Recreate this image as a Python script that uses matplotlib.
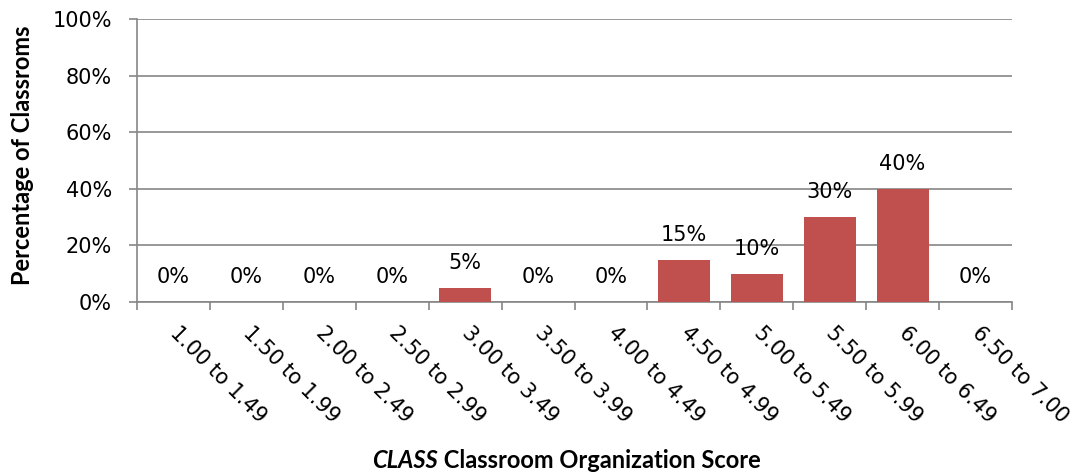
import numpy as np
import matplotlib.pyplot as plt
from matplotlib.ticker import FixedLocator

plt.rcParams['font.family'] = ['DejaVu Sans']

# data
categories = ["1.00 to 1.49", "1.50 to 1.99", "2.00 to 2.49", "2.50 to 2.99",
              "3.00 to 3.49", "3.50 to 3.99", "4.00 to 4.49", "4.50 to 4.99",
              "5.00 to 5.49", "5.50 to 5.99", "6.00 to 6.49", "6.50 to 7.00"]
percent = [0, 0, 0, 0, 5, 0, 0, 15, 10, 30, 40, 0]
yticks = [0, 20, 40, 60, 80, 100]

grid_c = "#868686"
bar_c = "#C0504D"
fs = 15

fig = plt.figure(figsize=(10.72, 4.76), dpi=100)
ax = fig.add_axes([137/1072, 1 - 302/476, 875/1072, 283/476])

x = np.arange(len(categories))
ax.bar(x, percent, width=0.71, color=bar_c, zorder=3)

for xi, v in zip(x, percent):
    ax.annotate(f"{v}%", (xi, v), xytext=(0, 18), textcoords="offset points",
                ha="center", va="center", fontsize=fs)

ax.set_xlim(-0.5, len(categories) - 0.5)
ax.set_ylim(0, 100)
ax.set_yticks(yticks)
ax.set_yticklabels([f"{t}%" for t in yticks], fontsize=fs)
ax.yaxis.grid(True, color=grid_c, linewidth=1.2, zorder=0)
ax.tick_params(axis="y", length=6, width=1.2, color=grid_c, pad=12)

ax.set_xticks(x)
ax.set_xticklabels(categories, fontsize=fs, rotation=-45,
                   rotation_mode="anchor", ha="left", va="center")
ax.tick_params(axis="x", which="major", length=0, pad=20)
ax.xaxis.set_minor_locator(FixedLocator(np.arange(-0.5, len(categories), 1)))
ax.tick_params(axis="x", which="minor", length=6, width=1.2, color=grid_c)

for s in ["top", "right"]:
    ax.spines[s].set_visible(False)
for s in ["left", "bottom"]:
    ax.spines[s].set_color(grid_c)
    ax.spines[s].set_linewidth(1.2)

ax.set_ylabel("Percentage of Classroms", fontsize=17, fontweight="bold",
              family="Lato")
ax.yaxis.set_label_coords(-103/875, 0.52)

t1 = fig.text(372/1072, 16/476, "CLASS", fontsize=17, fontweight="bold",
              fontstyle="italic", family="Lato", ha="left", va="center")
ax.annotate(" Classroom Organization Score", xy=(1, 0.5), xycoords=t1,
            ha="left", va="center", fontsize=17, fontweight="bold",
            family="Lato", annotation_clip=False)

fig.savefig("out.png", dpi=100)
